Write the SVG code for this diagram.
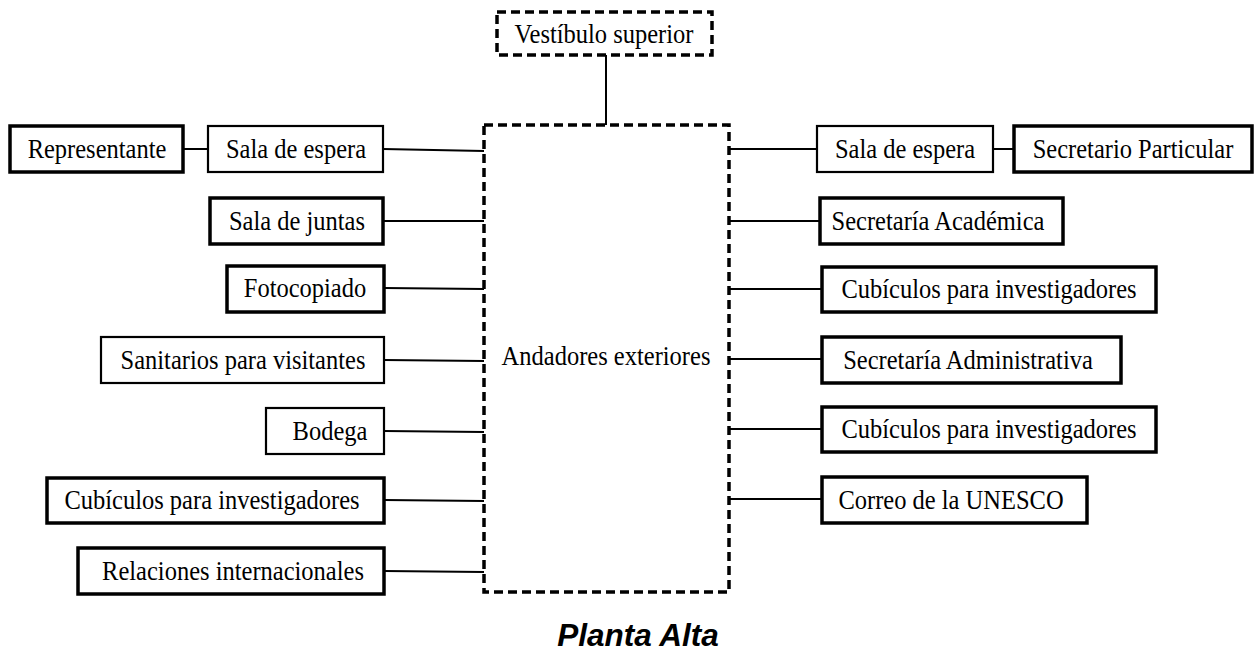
<svg xmlns="http://www.w3.org/2000/svg" width="1258" height="656" viewBox="0 0 1258 656">
<style>
.thick{fill:#fff;stroke:#000;stroke-width:3.5}
.thin{fill:#fff;stroke:#000;stroke-width:2.2}
.dash{fill:#fff;stroke:#000;stroke-width:3.5;stroke-dasharray:9,5}
.lbl{font-family:"Liberation Serif","Times New Roman",serif;font-size:24.5px;fill:#000;text-anchor:middle}
.con{stroke:#000;stroke-width:2;fill:none}
.title{font-family:"Liberation Sans",Arial,sans-serif;font-size:31.5px;font-weight:bold;font-style:italic;fill:#000;text-anchor:middle}
</style>
<rect width="1258" height="656" fill="#fff"/>
<g id="connectors">
<line class="con" x1="606" y1="55" x2="606" y2="125"/>
<line class="con" x1="183" y1="149" x2="208" y2="149"/>
<line class="con" x1="383" y1="149" x2="484" y2="151"/>
<line class="con" x1="383" y1="221" x2="484" y2="221"/>
<line class="con" x1="384" y1="288" x2="484" y2="289"/>
<line class="con" x1="384" y1="360" x2="484" y2="361"/>
<line class="con" x1="384" y1="431" x2="484" y2="432"/>
<line class="con" x1="384" y1="500" x2="484" y2="501"/>
<line class="con" x1="384" y1="571" x2="484" y2="572"/>
<line class="con" x1="729" y1="149" x2="817" y2="149"/>
<line class="con" x1="993" y1="149" x2="1014" y2="149"/>
<line class="con" x1="729" y1="221" x2="820" y2="221"/>
<line class="con" x1="729" y1="289" x2="822" y2="289"/>
<line class="con" x1="729" y1="359" x2="822" y2="359"/>
<line class="con" x1="729" y1="429" x2="822" y2="429"/>
<line class="con" x1="729" y1="499" x2="822" y2="499"/>
</g>
<g id="vestibulo"><rect class="dash" x="497" y="12" width="215" height="43"/><text class="lbl" transform="translate(604,43) scale(1,1.1)">Vestíbulo superior</text></g>
<g id="andadores"><rect class="dash" x="484" y="125" width="245" height="467"/><text class="lbl" transform="translate(606,365) scale(1,1.1)">Andadores exteriores</text></g>
<g id="representante"><rect class="thick" x="10" y="126" width="173" height="46"/><text class="lbl" transform="translate(97,158) scale(1,1.1)">Representante</text></g>
<g id="sala-espera-izq"><rect class="thin" x="208" y="126" width="175" height="46"/><text class="lbl" transform="translate(296,158) scale(1,1.1)">Sala de espera</text></g>
<g id="sala-juntas"><rect class="thick" x="210" y="198" width="173" height="46"/><text class="lbl" transform="translate(297,230) scale(1,1.1)">Sala de juntas</text></g>
<g id="fotocopiado"><rect class="thick" x="227" y="266" width="157" height="46"/><text class="lbl" transform="translate(305,297) scale(1,1.1)">Fotocopiado</text></g>
<g id="sanitarios"><rect class="thin" x="101" y="337" width="283" height="46"/><text class="lbl" transform="translate(243,369) scale(1,1.1)">Sanitarios para visitantes</text></g>
<g id="bodega"><rect class="thin" x="266" y="408" width="118" height="46"/><text class="lbl" transform="translate(330,440) scale(1,1.1)">Bodega</text></g>
<g id="cubiculos-izq"><rect class="thick" x="47" y="478" width="337" height="45"/><text class="lbl" transform="translate(212,509) scale(1,1.1)">Cubículos para investigadores</text></g>
<g id="relaciones"><rect class="thick" x="78" y="548" width="306" height="46"/><text class="lbl" transform="translate(233,580) scale(1,1.1)">Relaciones internacionales</text></g>
<g id="sala-espera-der"><rect class="thin" x="817" y="126" width="176" height="46"/><text class="lbl" transform="translate(905,158) scale(1,1.1)">Sala de espera</text></g>
<g id="secretario"><rect class="thick" x="1014" y="126" width="238" height="46"/><text class="lbl" transform="translate(1133,158) scale(1,1.1)">Secretario Particular</text></g>
<g id="sec-academica"><rect class="thick" x="820" y="198" width="243" height="46"/><text class="lbl" transform="translate(938,230) scale(1,1.1)">Secretaría Académica</text></g>
<g id="cubiculos-der-1"><rect class="thick" x="822" y="267" width="334" height="45"/><text class="lbl" transform="translate(989,298) scale(1,1.1)">Cubículos para investigadores</text></g>
<g id="sec-administrativa"><rect class="thick" x="822" y="337" width="299" height="46"/><text class="lbl" transform="translate(968,369) scale(1,1.1)">Secretaría Administrativa</text></g>
<g id="cubiculos-der-2"><rect class="thick" x="822" y="407" width="334" height="45"/><text class="lbl" transform="translate(989,438) scale(1,1.1)">Cubículos para investigadores</text></g>
<g id="correo"><rect class="thick" x="822" y="477" width="265" height="46"/><text class="lbl" transform="translate(951,509) scale(1,1.1)">Correo de la UNESCO</text></g>
<text class="title" x="638" y="646">Planta Alta</text>
</svg>
